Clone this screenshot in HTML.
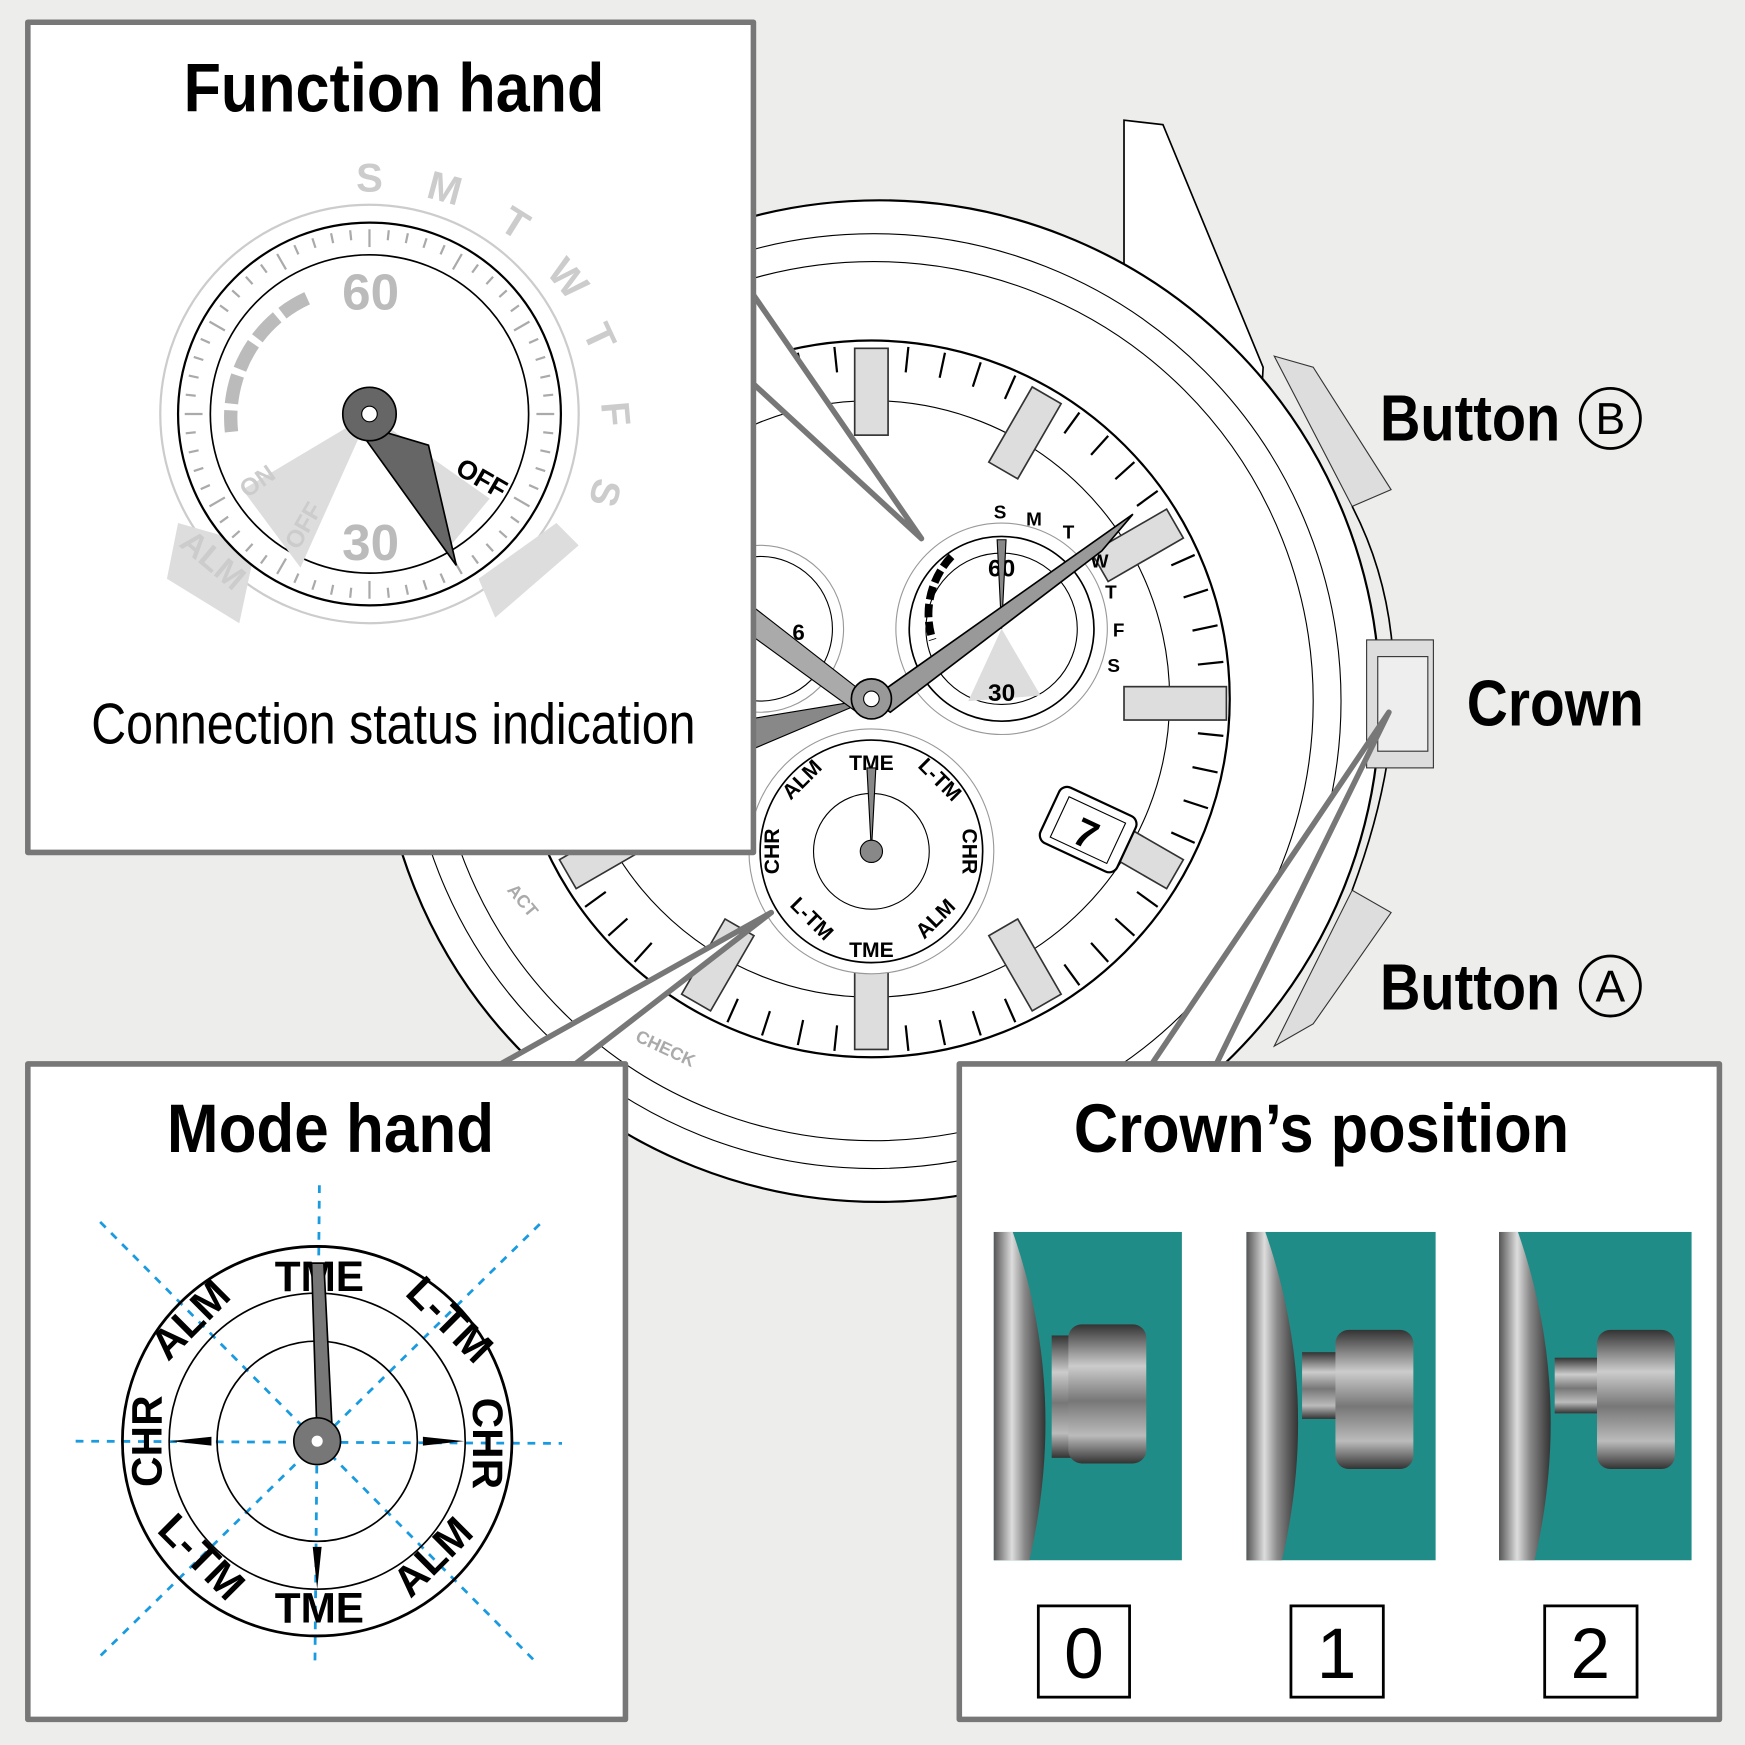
<!DOCTYPE html>
<html><head><meta charset="utf-8"><style>
html,body{margin:0;padding:0;background:#ededeb}
svg{display:block}
.t{font-family:"Liberation Sans",sans-serif;font-weight:bold}
.s{font-family:"Liberation Sans",sans-serif;font-weight:bold}
</style></head><body>
<svg width="1745" height="1745" viewBox="0 0 1568 1568" xmlns="http://www.w3.org/2000/svg">
<defs>
<linearGradient id="met" x1="0" x2="1"><stop offset="0" stop-color="#555"/><stop offset="0.35" stop-color="#ddd"/><stop offset="0.6" stop-color="#888"/><stop offset="1" stop-color="#333"/></linearGradient>
<linearGradient id="cr" x1="0" x2="0" y1="0" y2="1"><stop offset="0" stop-color="#333"/><stop offset="0.3" stop-color="#ccc"/><stop offset="0.55" stop-color="#777"/><stop offset="0.8" stop-color="#bbb"/><stop offset="1" stop-color="#333"/></linearGradient>
</defs>
<rect width="1568" height="1568" fill="#ededeb"/>
<path d="M1010,108 L1045,112 L1135,330 L1130,420 L1040,300 L1010,250 Z" fill="#fff" stroke="#000" stroke-width="1.5"/>
<path d="M1145,320 L1180,330 L1250,440 L1215,455 Z" fill="#ddd" stroke="#333"/>
<path d="M1145,940 L1180,920 L1250,820 L1215,800 Z" fill="#ddd" stroke="#333"/>
<circle cx="790" cy="630" r="450" fill="#fff" stroke="#000" stroke-width="2"/>
<path d="M1215,455 Q1290,600 1215,800" fill="none" stroke="#000" stroke-width="1.5"/>
<rect x="1228" y="575" width="60" height="115" fill="#ddd" stroke="#333"/>
<rect x="1238" y="590" width="45" height="85" fill="#eee" stroke="#333"/>
<circle cx="785" cy="630" r="420" fill="#fff" stroke="#000" stroke-width="1"/>
<circle cx="785" cy="630" r="395" fill="#fff" stroke="#000" stroke-width="1"/>
<circle cx="783" cy="628" r="322" fill="#fff" stroke="#000" stroke-width="2"/>
<circle cx="783" cy="628" r="268" fill="none" stroke="#000" stroke-width="1"/>
<g stroke="#000" stroke-width="2" id="ticks"></g>
<rect x="1010" y="617" width="92" height="30" fill="#ddd" stroke="#333" stroke-width="1.5"/>
<circle cx="900" cy="565" r="95" fill="#fff" stroke="#999"/>
<circle cx="900" cy="565" r="83" fill="#fff" stroke="#000" stroke-width="1.5"/>
<circle cx="900" cy="565" r="68" fill="#fff" stroke="#000"/>
<path d="M900,565 L870,630 L935,625 Z" fill="#ddd"/>
<path d="M855,500 A75,75 0 0 0 838,575" fill="none" stroke="#000" stroke-width="7" stroke-dasharray="12 4"/>
<text x="900" y="518" class="s" font-size="22" text-anchor="middle">60</text>
<text x="900" y="630" class="s" font-size="22" text-anchor="middle">30</text>
<g class="s" font-size="17"><text x="893" y="466">S</text><text x="922" y="472">M</text><text x="955" y="484">T</text><text x="980" y="510">W</text><text x="993" y="538">T</text><text x="1000" y="572">F</text><text x="995" y="604">S</text></g>
<path d="M900,565 L896,485 L904,485 Z" fill="#888" stroke="#000"/>
<circle cx="683" cy="565" r="75" fill="#fff" stroke="#999"/>
<circle cx="683" cy="565" r="65" fill="#fff" stroke="#000"/>
<text x="712" y="575" class="s" font-size="20">6</text>
<circle cx="783" cy="765" r="110" fill="#fff" stroke="#999"/>
<circle cx="783" cy="765" r="100" fill="#fff" stroke="#000" stroke-width="1.5"/>
<circle cx="783" cy="765" r="52" fill="#fff" stroke="#000"/>
<g class="s" font-size="19" text-anchor="middle">
<text x="783" y="692">TME</text>
<text x="783" y="860">TME</text>
<text transform="translate(840,705) rotate(45)" >L-TM</text>
<text transform="translate(725,705) rotate(-45)">ALM</text>
<text transform="translate(865,765) rotate(90)">CHR</text>
<text transform="translate(700,765) rotate(-90)">CHR</text>
<text transform="translate(725,830) rotate(45)">L-TM</text>
<text transform="translate(845,830) rotate(-45)">ALM</text>
</g>
<path d="M783,765 L779,690 L787,690 Z" fill="#888" stroke="#000"/>
<circle cx="783" cy="765" r="10" fill="#888" stroke="#000"/>
<g transform="rotate(25 978 745)"><rect x="940" y="718" width="76" height="55" rx="8" fill="#fff" stroke="#000" stroke-width="2"/><rect x="950" y="726" width="56" height="40" fill="#fff" stroke="#000"/><text x="978" y="762" class="s" font-size="36" text-anchor="middle">7</text></g>
<path d="M783,628 L1018,462 L990,495 L800,640 Z" fill="#999" stroke="#000" stroke-width="1.5"/>
<path d="M783,628 L650,650 L660,680 Z" fill="#888" stroke="#000"/>
<path d="M783,628 L670,540 L660,560 L770,640 Z" fill="#aaa" stroke="#000"/>
<circle cx="783" cy="628" r="18" fill="#999" stroke="#000" stroke-width="1.5"/>
<circle cx="783" cy="628" r="7" fill="#fff" stroke="#000"/>
<text transform="translate(455,800) rotate(50)" class="s" font-size="16" fill="#aaa">ACT</text>
<text transform="translate(570,935) rotate(25)" class="s" font-size="16" fill="#aaa">CHECK</text>
<g fill="#fff" stroke="#777" stroke-width="5" stroke-linejoin="round">
<path d="M677,265 L828,484 L677,345 Z"/>
<path d="M450,956 L693,820 L517,956 Z"/>
<path d="M1035,956 L1248,640 L1093,956 Z"/>
<rect x="25" y="20" width="652" height="746"/>
<rect x="25" y="956" width="537" height="589"/>
<rect x="862" y="956" width="683" height="589"/>
</g>
<g fill="#fff" stroke="none"><rect x="28" y="23" width="646" height="740"/><rect x="28" y="959" width="531" height="583"/><rect x="865" y="959" width="677" height="583"/></g>
<g class="t" font-size="58"><text x="1240" y="396" textLength="162" lengthAdjust="spacingAndGlyphs">Button</text><text x="1318" y="652" textLength="159" lengthAdjust="spacingAndGlyphs">Crown</text><text x="1240" y="907" textLength="162" lengthAdjust="spacingAndGlyphs">Button</text></g>
<g font-family="Liberation Sans,sans-serif" font-size="40" text-anchor="middle"><circle cx="1447" cy="376" r="27" fill="none" stroke="#000" stroke-width="2.5"/><text x="1447" y="390">B</text><circle cx="1447" cy="886" r="27" fill="none" stroke="#000" stroke-width="2.5"/><text x="1447" y="900">A</text></g>
<text x="165" y="100" class="t" font-size="62" textLength="378" lengthAdjust="spacingAndGlyphs">Function hand</text>
<text x="82" y="668" font-family="Liberation Sans,sans-serif" font-size="52" textLength="543" lengthAdjust="spacingAndGlyphs">Connection status indication</text>
<text x="150" y="1035" class="t" font-size="62" textLength="294" lengthAdjust="spacingAndGlyphs">Mode hand</text>
<text x="965" y="1035" class="t" font-size="62" textLength="445" lengthAdjust="spacingAndGlyphs">Crown’s position</text>
<circle cx="332" cy="372" r="188" fill="#fff" stroke="#ccc" stroke-width="2"/>
<path d="M160,470 L230,490 L215,560 L150,520 Z" fill="#ddd"/>
<path d="M430,520 L500,470 L520,490 L445,555 Z" fill="#ddd"/>
<circle cx="332" cy="372" r="172" fill="#fff" stroke="#000" stroke-width="2"/>
<g stroke="#aaa" stroke-width="2" id="fticks"></g>
<circle cx="332" cy="372" r="143" fill="#fff" stroke="#000" stroke-width="1.5"/>
<path d="M332,372 L218,440 L270,510 Z" fill="#ddd"/>
<path d="M332,372 L440,448 L405,490 Z" fill="#ddd"/>
<path d="M276,268 A118,118 0 0 0 208,388" fill="none" stroke="#bbb" stroke-width="12" stroke-dasharray="26 6"/>
<text x="333" y="278" class="s" font-size="46" fill="#bbb" text-anchor="middle">60</text>
<text x="333" y="503" class="s" font-size="46" fill="#bbb" text-anchor="middle">30</text>
<text transform="translate(408,425) rotate(30)" class="s" font-size="24">OFF</text>
<text transform="translate(222,448) rotate(-35)" class="s" font-size="22" fill="#ccc">ON</text>
<text transform="translate(268,495) rotate(-60)" class="s" font-size="22" fill="#ccc">OFF</text>
<text transform="translate(160,490) rotate(40)" class="s" font-size="30" fill="#ccc">ALM</text>
<g class="s" font-size="36" fill="#ccc"><text x="320" y="172">S</text><text transform="translate(382,177) rotate(15)">M</text><text transform="translate(447,205) rotate(32)">T</text><text transform="translate(490,245) rotate(50)">W</text><text transform="translate(523,298) rotate(65)">T</text><text transform="translate(540,362) rotate(85)">F</text><text transform="translate(535,428) rotate(105)">S</text></g>
<path d="M318,380 L410,508 L385,400 Z" fill="#666" stroke="#000" stroke-width="1.5"/>
<circle cx="332" cy="372" r="24" fill="#666" stroke="#000" stroke-width="1.5"/>
<circle cx="332" cy="372" r="7" fill="#fff" stroke="#000"/>
<g stroke="#1a9be0" stroke-width="2.5" stroke-dasharray="7 7">
<line x1="287" y1="1065" x2="283" y2="1495"/><line x1="68" y1="1295" x2="505" y2="1297"/>
<line x1="90" y1="1098" x2="480" y2="1492"/><line x1="485" y1="1100" x2="88" y2="1490"/>
</g>
<circle cx="285" cy="1295" r="175" fill="none" stroke="#000" stroke-width="2.5"/>
<circle cx="285" cy="1295" r="133" fill="none" stroke="#000" stroke-width="1.5"/>
<circle cx="285" cy="1295" r="90" fill="none" stroke="#000" stroke-width="1.5"/>
<g class="s" font-size="38" text-anchor="middle">
<text x="287" y="1160">TME</text>
<text x="287" y="1458">TME</text>
<text transform="translate(395,1195) rotate(45)">L-TM</text>
<text transform="translate(180,1195) rotate(-45)">ALM</text>
<text transform="translate(425,1297) rotate(90)">CHR</text>
<text transform="translate(145,1295) rotate(-90)">CHR</text>
<text transform="translate(172,1408) rotate(45)">L-TM</text>
<text transform="translate(398,1408) rotate(-45)">ALM</text>
</g>
<g fill="#000"><path d="M153,1295 L190,1291 L190,1299Z"/><path d="M417,1295 L380,1291 L380,1299Z"/><path d="M285,1428 L281,1390 L289,1390Z"/></g>
<path d="M285,1295 L280,1135 L291,1135 L299,1295 Z" fill="#777" stroke="#000" stroke-width="1.5"/>
<circle cx="285" cy="1295" r="21" fill="#777" stroke="#000" stroke-width="1.5"/>
<circle cx="285" cy="1295" r="5" fill="#fff"/>
<g>
<rect x="893" y="1107" width="169" height="295" fill="#1f8c87"/>
<path d="M893,1107 L910,1107 Q960,1250 925,1402 L893,1402 Z" fill="url(#met)"/>
<rect x="945" y="1200" width="18" height="110" fill="url(#cr)"/>
<rect x="960" y="1190" width="70" height="125" rx="12" fill="url(#cr)"/>
<rect x="1120" y="1107" width="170" height="295" fill="#1f8c87"/>
<path d="M1120,1107 L1137,1107 Q1187,1250 1152,1402 L1120,1402 Z" fill="url(#met)"/>
<rect x="1170" y="1215" width="45" height="60" fill="url(#cr)"/>
<rect x="1200" y="1195" width="70" height="125" rx="12" fill="url(#cr)"/>
<rect x="1347" y="1107" width="173" height="295" fill="#1f8c87"/>
<path d="M1347,1107 L1364,1107 Q1414,1250 1379,1402 L1347,1402 Z" fill="url(#met)"/>
<rect x="1397" y="1220" width="55" height="50" fill="url(#cr)"/>
<rect x="1435" y="1195" width="70" height="125" rx="12" fill="url(#cr)"/>
</g>
<g fill="#fff" stroke="#000" stroke-width="2.5"><rect x="933" y="1443" width="82" height="82"/><rect x="1160" y="1443" width="83" height="82"/><rect x="1388" y="1443" width="83" height="82"/></g>
<g font-family="Liberation Sans,sans-serif" font-size="64" text-anchor="middle"><text x="974" y="1508">0</text><text x="1201" y="1508">1</text><text x="1429" y="1508">2</text></g>
</svg>
<script>
(function(){var NS='http://www.w3.org/2000/svg';
function ln(g,x1,y1,x2,y2){var l=document.createElementNS(NS,'line');l.setAttribute('x1',x1);l.setAttribute('y1',y1);l.setAttribute('x2',x2);l.setAttribute('y2',y2);g.appendChild(l);}
var g=document.getElementById('ticks');
for(var i=0;i<60;i++){if(i%5==0)continue;var a=i*6*Math.PI/180;ln(g,783+295*Math.sin(a),628-295*Math.cos(a),783+318*Math.sin(a),628-318*Math.cos(a));}
for(var i=0;i<12;i++){if(i==3)continue;var r=document.createElementNS(NS,'rect');r.setAttribute('x',768);r.setAttribute('y',313);r.setAttribute('width',30);r.setAttribute('height',78);r.setAttribute('fill','#ddd');r.setAttribute('stroke','#333');r.setAttribute('stroke-width','1.5');r.setAttribute('transform','rotate('+(i*30)+' 783 628)');g.appendChild(r);}
var m=document.getElementById('fticks');
for(var i=0;i<60;i++){var a=i*6*Math.PI/180;var r1=i%5==0?150:157,r2=166;ln(m,332+r1*Math.sin(a),372-r1*Math.cos(a),332+r2*Math.sin(a),372-r2*Math.cos(a));}
})();
</script>
</body></html>
